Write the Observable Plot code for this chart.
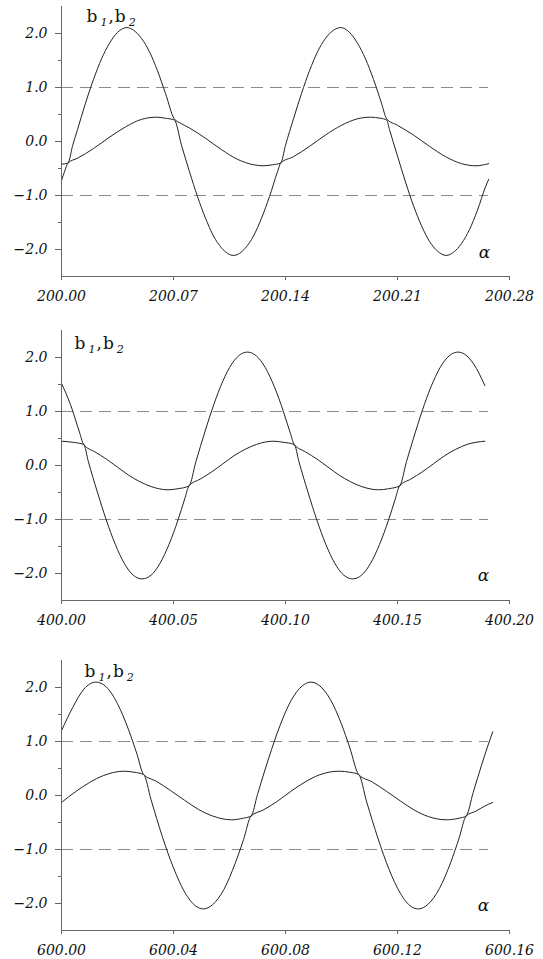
<!DOCTYPE html>
<html>
<head>
<meta charset="utf-8">
<script src="https://cdn.jsdelivr.net/npm/d3@7"></script>
<script src="https://cdn.jsdelivr.net/npm/@observablehq/plot@0.6"></script>
<style>
  html, body { margin: 0; padding: 0; background: #fff; }
  #chart { position: relative; width: 543px; height: 959px; overflow: hidden; }
  #chart svg { position: absolute; left: 0; }
</style>
</head>
<body>
<div id="chart"></div>
<script>
// ---------- Panel 1 (alpha 200.00 .. 200.28) ----------
const p1Ticks = [200.00, 200.07, 200.14, 200.21, 200.28];
const p1b1x = [200.000, 200.004, 200.007, 200.010, 200.015, 200.020, 200.025, 200.030, 200.035, 200.041, 200.045, 200.050, 200.055, 200.060, 200.065, 200.0705,
  200.075, 200.080, 200.090, 200.100, 200.110, 200.120, 200.126, 200.132, 200.137,
  200.140, 200.145, 200.150, 200.155, 200.160, 200.165, 200.170, 200.1745, 200.180, 200.185, 200.190, 200.195, 200.200, 200.2032,
  200.210, 200.220, 200.230, 200.240, 200.250, 200.259, 200.267];
const p1b1y = [-0.42, -0.40, -0.07, 0.22, 0.71, 1.15, 1.53, 1.82, 2.02, 2.11, 2.06, 1.91, 1.66, 1.31, 0.89, 0.42,
  0.33, 0.25, 0.06, -0.15, -0.33, -0.43, -0.45, -0.43, -0.40,
  -0.07, 0.42, 0.89, 1.31, 1.66, 1.91, 2.06, 2.11, 2.02, 1.82, 1.53, 1.15, 0.71, 0.42,
  0.30, 0.12, -0.09, -0.28, -0.41, -0.45, -0.41];
const p1b2x = [200.000, 200.002, 200.004, 200.010, 200.020, 200.030, 200.040, 200.050, 200.0595, 200.065, 200.0705,
  200.075, 200.080, 200.085, 200.090, 200.095, 200.100, 200.1075, 200.115, 200.120, 200.125, 200.130, 200.135, 200.137,
  200.145, 200.155, 200.165, 200.175, 200.185, 200.193, 200.1995, 200.2032,
  200.205, 200.210, 200.215, 200.220, 200.225, 200.230, 200.235, 200.2405, 200.245, 200.250, 200.255, 200.260, 200.265, 200.267];
const p1b2y = [-0.72, -0.55, -0.40, -0.31, -0.13, 0.08, 0.27, 0.41, 0.45, 0.43, 0.40,
  -0.07, -0.56, -1.02, -1.42, -1.75, -1.97, -2.11, -1.97, -1.75, -1.42, -1.02, -0.56, -0.40,
  -0.28, -0.09, 0.12, 0.30, 0.42, 0.45, 0.43, 0.40,
  0.22, -0.27, -0.75, -1.19, -1.56, -1.85, -2.03, -2.11, -2.05, -1.89, -1.63, -1.27, -0.84, -0.70];

// ---------- Panel 2 (alpha 400.00 .. 400.20) ----------
const p2Ticks = [400.00, 400.05, 400.10, 400.15, 400.20];
const p2b1x = [400.000, 400.004, 400.008, 400.0099,
  400.015, 400.020, 400.025, 400.030, 400.035, 400.040, 400.0475, 400.052, 400.0569,
  400.060, 400.064, 400.068, 400.072, 400.076, 400.080, 400.083, 400.086, 400.090, 400.094, 400.098, 400.102, 400.1039,
  400.109, 400.114, 400.119, 400.124, 400.129, 400.134, 400.1415, 400.146, 400.1509,
  400.154, 400.158, 400.162, 400.166, 400.170, 400.174, 400.177, 400.180, 400.184, 400.189];
const p2b1y = [1.52, 1.13, 0.62, 0.39,
  0.25, 0.12, -0.03, -0.18, -0.30, -0.39, -0.45, -0.43, -0.38,
  0.07, 0.62, 1.13, 1.56, 1.88, 2.06, 2.10, 2.06, 1.88, 1.56, 1.13, 0.62, 0.39,
  0.25, 0.12, -0.03, -0.18, -0.30, -0.39, -0.45, -0.43, -0.38,
  0.07, 0.62, 1.13, 1.56, 1.88, 2.06, 2.10, 2.06, 1.88, 1.48];
const p2b2x = [400.000, 400.005, 400.0099,
  400.012, 400.016, 400.020, 400.024, 400.028, 400.032, 400.036, 400.040, 400.044, 400.048, 400.052, 400.055, 400.0569,
  400.062, 400.067, 400.072, 400.077, 400.082, 400.087, 400.0945, 400.099, 400.1039,
  400.106, 400.110, 400.114, 400.118, 400.122, 400.126, 400.130, 400.134, 400.138, 400.142, 400.146, 400.149, 400.1509,
  400.156, 400.161, 400.166, 400.171, 400.176, 400.181, 400.189];
const p2b2y = [0.45, 0.43, 0.39,
  0.07, -0.49, -1.01, -1.46, -1.81, -2.03, -2.10, -2.03, -1.81, -1.46, -1.01, -0.62, -0.38,
  -0.25, -0.12, 0.03, 0.18, 0.30, 0.39, 0.45, 0.43, 0.39,
  0.07, -0.49, -1.01, -1.46, -1.81, -2.03, -2.10, -2.03, -1.81, -1.46, -1.01, -0.62, -0.38,
  -0.25, -0.12, 0.03, 0.18, 0.30, 0.39, 0.45];

// ---------- Panel 3 (alpha 600.00 .. 600.16) ----------
const p3Ticks = [600.00, 600.04, 600.08, 600.12, 600.16];
const p3b1x = [600.000, 600.004, 600.008, 600.0123, 600.016, 600.020, 600.024, 600.027, 600.0293,
  600.034, 600.039, 600.044, 600.049, 600.054, 600.0607, 600.065, 600.0677,
  600.070, 600.074, 600.078, 600.082, 600.086, 600.0891, 600.092, 600.096, 600.100, 600.103, 600.1061,
  600.111, 600.116, 600.121, 600.126, 600.131, 600.1375, 600.142, 600.1445,
  600.147, 600.150, 600.152, 600.154];
const p3b1y = [1.20, 1.63, 1.97, 2.10, 2.01, 1.70, 1.21, 0.76, 0.39,
  0.26, 0.09, -0.09, -0.26, -0.38, -0.45, -0.42, -0.38,
  0.02, 0.69, 1.29, 1.76, 2.03, 2.10, 2.04, 1.78, 1.32, 0.88, 0.39,
  0.25, 0.08, -0.10, -0.27, -0.39, -0.45, -0.42, -0.38,
  0.05, 0.56, 0.88, 1.18];
const p3b2x = [600.000, 600.005, 600.010, 600.015, 600.0223, 600.026, 600.0293,
  600.032, 600.036, 600.040, 600.044, 600.048, 600.0507, 600.054, 600.058, 600.062, 600.065, 600.0677,
  600.072, 600.077, 600.082, 600.087, 600.092, 600.0991, 600.103, 600.1061,
  600.109, 600.113, 600.117, 600.121, 600.125, 600.1275, 600.131, 600.135, 600.139, 600.142, 600.1445,
  600.148, 600.151, 600.154];
const p3b2y = [-0.13, 0.07, 0.24, 0.37, 0.45, 0.43, 0.39,
  -0.08, -0.76, -1.34, -1.79, -2.05, -2.10, -2.02, -1.74, -1.26, -0.82, -0.38,
  -0.27, -0.11, 0.08, 0.25, 0.38, 0.45, 0.43, 0.39,
  -0.12, -0.79, -1.37, -1.81, -2.06, -2.10, -2.01, -1.72, -1.24, -0.79, -0.38,
  -0.29, -0.20, -0.13];

// ---------- shared ----------
const yDomain = [-2.5, 2.5];
const yMajor = [-2, -1, 0, 1, 2];
const yMinor = [-1.5, -0.5, 0.5, 1.5];
const dashLevels = [-1, 1];
const axisLabel = "b1,b2";
const axisLabelParts = [["b", false], ["1", true], [",", false], ["b", false], ["2", true]];
const varLabel = "α";
// per-panel: dashed line end, label (x,y), alpha (x,y)
const dashEnd = [200.2669, 400.1906, 600.1525];
const labelPos = [[200.0150, 2.22], [400.0054, 2.15], [600.0079, 2.20]];
const alphaPos = [[200.2644, -2.06], [400.1884, -2.04], [600.1507, -2.04]];

const panels = [
  {ticks: p1Ticks, series: [[p1b1x, p1b1y], [p1b2x, p1b2y]], top: 0, height: 320},
  {ticks: p2Ticks, series: [[p2b1x, p2b1y], [p2b2x, p2b2y]], top: 324, height: 320},
  {ticks: p3Ticks, series: [[p3b1x, p3b1y], [p3b2x, p3b2y]], top: 654, height: 305}
];

const tickFont = {fontFamily: "DejaVu Serif", fontSize: 14, fontStyle: "italic", letterSpacing: "2px"};
const minus = (s) => s.replace("-", "\u2212");

const chart = document.getElementById("chart");
panels.forEach((p, i) => {
  const rows = [];
  p.series.forEach(([xs, ys], k) => xs.forEach((x, j) => rows.push({x, y: ys[j], s: "b" + (k + 1)})));
  const x0 = p.ticks[0], x1 = p.ticks[p.ticks.length - 1];
  const rules = dashLevels.map(y => ({y, x1: x0, x2: dashEnd[i]}));
  const svg = Plot.plot({
    width: 543,
    height: p.height,
    marginLeft: 61,
    marginRight: 34,
    marginTop: 6,
    marginBottom: p.height - 276,
    style: {background: "#fff", color: "#111", overflow: "visible"},
    x: {domain: [x0, x1]},
    y: {domain: yDomain},
    marks: [
      Plot.ruleY(rules, {y: "y", x1: "x1", x2: "x2", stroke: "#8a8a8a", strokeWidth: 1, strokeDasharray: "12,7"}),
      Plot.line(rows, {x: "x", y: "y", z: "s", curve: "monotone-x", stroke: "#222", strokeWidth: 1}),
      Plot.ruleX([x0], {stroke: "#666", strokeWidth: 1}),
      Plot.ruleY([yDomain[0]], {stroke: "#666", strokeWidth: 1}),
      Plot.axisY({ticks: yMinor, tickSize: 3, text: null, label: null, stroke: "#666"}),
      Plot.axisY({ticks: yMajor, tickSize: 6, tickPadding: 8, stroke: "#666", fill: "#111",
        tickFormat: d => minus(d.toFixed(1)), label: null, ...tickFont}),
      Plot.axisX({ticks: p.ticks, tickSize: 4, tickPadding: 11, stroke: "#666", fill: "#111",
        tickFormat: d => d.toFixed(2), label: null, ...tickFont}),
      Plot.text([{x: labelPos[i][0], y: labelPos[i][1], t: axisLabel}], {x: "x", y: "y", text: "t",
        textAnchor: "start", lineAnchor: "bottom", fontFamily: "DejaVu Serif", fontSize: 17, fill: "#111"}),
      Plot.text([{x: alphaPos[i][0], y: alphaPos[i][1], t: varLabel}], {x: "x", y: "y", text: "t",
        textAnchor: "middle", lineAnchor: "middle", fontFamily: "DejaVu Serif", fontStyle: "italic", fontSize: 17, fill: "#111"})
    ]
  });
  // typeset the b1,b2 label with real subscripts
  d3.select(svg).selectAll("text").filter(function() { return this.textContent === axisLabel; }).each(function() {
    const t = d3.select(this);
    t.text(null);
    let lowered = false;
    axisLabelParts.forEach(([s, sub]) => {
      const ts = t.append("tspan").text(s);
      if (sub) {
        ts.attr("font-size", 11).attr("font-style", "italic").attr("dy", 4).attr("dx", 3);
        lowered = true;
      } else if (lowered) {
        ts.attr("dy", -4).attr("dx", 1);
        lowered = false;
      } else {
        ts.attr("dx", 1);
      }
    });
  });
  svg.style.top = p.top + "px";
  chart.appendChild(svg);
});
</script>
</body>
</html>
